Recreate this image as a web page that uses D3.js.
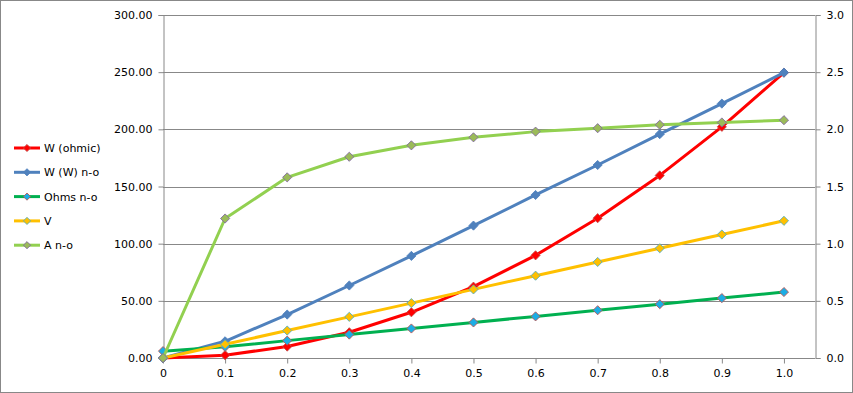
<!DOCTYPE html>
<html>
<head>
<meta charset="utf-8">
<script src="https://cdn.jsdelivr.net/npm/d3@7"></script>
<style>
  body { margin: 0; background: #fff; }
  svg { display: block; font-family: "DejaVu Sans", Verdana, sans-serif; }
</style>
</head>
<body>
<div class="container"></div>
<script>
// data
const xs = [0, 0.1, 0.2, 0.3, 0.4, 0.5, 0.6, 0.7, 0.8, 0.9, 1.0];
const xLabels = ["0", "0.1", "0.2", "0.3", "0.4", "0.5", "0.6", "0.7", "0.8", "0.9", "1.0"];
const wOhmic = [0, 2.5, 10, 22.5, 40, 62.4, 89.8, 122.3, 159.7, 202.2, 249.6];
const wNo = [0, 14.6, 38, 63.4, 89.3, 115.8, 142.6, 168.8, 195.8, 222.5, 249.6];
const ohmsNo = [6, 9.8, 15.2, 20.5, 25.8, 31.1, 36.4, 41.8, 47.1, 52.4, 57.7];
const volts = [0, 12, 24, 36, 48, 60, 72, 84, 96, 108, 120];
const ampsNo = [0, 1.22, 1.58, 1.76, 1.86, 1.93, 1.98, 2.01, 2.04, 2.06, 2.08];
const leftTicks = [0, 50, 100, 150, 200, 250, 300];
const rightTicks = [0, 0.5, 1.0, 1.5, 2.0, 2.5, 3.0];

const series = [
  {name: "W (ohmic)", vals: wOhmic, axis: "L", line: "#ff0000", fill: "#ff0000", stroke: "#c0504d"},
  {name: "W (W) n-o", vals: wNo, axis: "L", line: "#4f81bd", fill: "#4f81bd", stroke: "#4f81bd"},
  {name: "Ohms n-o", vals: ohmsNo, axis: "L", line: "#00b050", fill: "#1cade4", stroke: "#c0504d"},
  {name: "V", vals: volts, axis: "L", line: "#ffc000", fill: "#ffc000", stroke: "#4bacc6"},
  {name: "A n-o", vals: ampsNo, axis: "R", line: "#92d050", fill: "#9bbb59", stroke: "#8064a2"}
];

const width = 853, height = 393;
const svg = d3.select(".container").append("svg")
  .attr("width", width).attr("height", height);

svg.append("rect")
  .attr("x", 0.5).attr("y", 0.5)
  .attr("width", width - 1).attr("height", height - 1)
  .attr("fill", "#fff").attr("stroke", "#888");

const plotL = 163, plotR = 815, plotT = 15, plotB = 358;
const x = d3.scaleLinear().domain([0, 1.05]).range([plotL, plotR]);
const yL = d3.scaleLinear().domain([0, 300]).range([plotB, plotT]);
const yR = d3.scaleLinear().domain([0, 3]).range([plotB, plotT]);

// gridlines
svg.append("g").selectAll("line")
  .data(leftTicks)
  .enter().append("line")
  .attr("x1", plotL).attr("x2", plotR)
  .attr("y1", d => Math.round(yL(d)) + 0.5).attr("y2", d => Math.round(yL(d)) + 0.5)
  .attr("stroke", "#888").attr("stroke-width", 1);

const axisStyle = g => {
  g.select(".domain").attr("stroke", "#888");
  g.selectAll(".tick line").attr("stroke", "#888");
  g.selectAll(".tick text").attr("fill", "#000").style("font-size", "11px")
    .style("font-family", '"DejaVu Sans", Verdana, sans-serif');
};

svg.append("g")
  .attr("transform", `translate(${plotL + 0.5},0)`)
  .call(d3.axisLeft(yL).tickValues(leftTicks).tickFormat(d3.format(".2f")).tickSizeOuter(0).tickSize(5).tickPadding(6))
  .call(axisStyle);

svg.append("g")
  .attr("transform", `translate(${plotR + 0.5},0)`)
  .call(d3.axisRight(yR).tickValues(rightTicks).tickFormat(d3.format(".1f")).tickSizeOuter(0).tickSize(5).tickPadding(6))
  .call(axisStyle);

svg.append("g")
  .attr("transform", `translate(0,${plotB + 0.5})`)
  .call(d3.axisBottom(x).tickValues(xs).tickFormat((d, i) => xLabels[i]).tickSizeOuter(0).tickSize(5).tickPadding(6))
  .call(g => g.select(".domain").attr("d", `M${plotL},0H${plotR}`))
  .call(axisStyle);

// square diamonds: a square turned 45 degrees
const diamond = d3.symbol().type(d3.symbolSquare).size(42);

series.forEach(s => {
  const yS = s.axis === "L" ? yL : yR;
  const line = d3.line().x((d, i) => x(xs[i])).y(d => yS(d));
  svg.append("path")
    .datum(s.vals)
    .attr("d", line)
    .attr("fill", "none")
    .attr("stroke", s.line)
    .attr("stroke-width", 3)
    .attr("stroke-linejoin", "round");
  svg.append("g").selectAll("path")
    .data(s.vals)
    .enter().append("path")
    .attr("d", diamond)
    .attr("transform", (d, i) => `translate(${x(xs[i])},${yS(d)}) rotate(45)`)
    .attr("fill", s.fill)
    .attr("stroke", s.stroke)
    .attr("stroke-width", 0.8);
});

// legend
const legend = svg.append("g").attr("transform", "translate(14,148)");
series.forEach((s, i) => {
  const g = legend.append("g").attr("transform", `translate(0,${i * 24.3})`);
  g.append("line").attr("x1", 0).attr("x2", 26).attr("y1", 0).attr("y2", 0)
    .attr("stroke", s.line).attr("stroke-width", 3);
  g.append("path").attr("d", d3.symbol().type(d3.symbolSquare).size(26))
    .attr("transform", "translate(13,0) rotate(45)")
    .attr("fill", s.fill).attr("stroke", s.stroke).attr("stroke-width", 0.8);
  g.append("text").attr("x", 30).attr("y", 4)
    .style("font-size", "11px").text(s.name);
});
</script>
</body>
</html>
